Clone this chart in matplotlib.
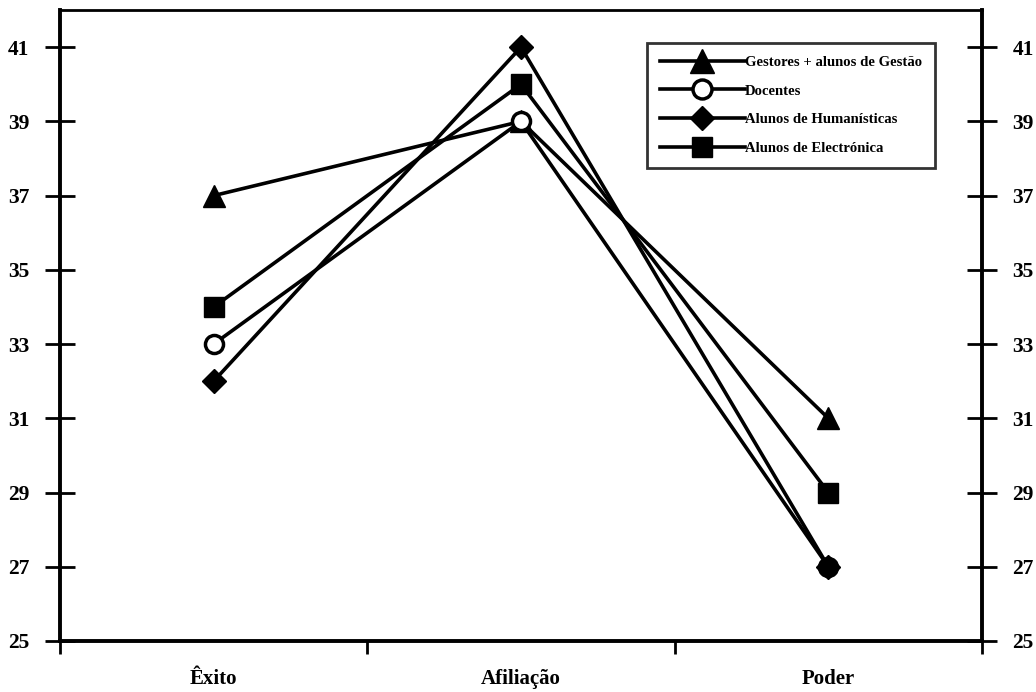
import matplotlib.pyplot as plt
import numpy as np
from matplotlib.ticker import FixedLocator, NullFormatter

# Datos
categorias = ['Êxito', 'Afiliação', 'Poder']
gestores = [37, 39, 31]
docentes = [33, 39, 27]
humanisticas = [32, 41, 27]
electronica = [34, 40, 29]
nombres = ['Gestores + alunos de Gestão', 'Docentes',
           'Alunos de Humanísticas', 'Alunos de Electrónica']
y_ticks = list(range(25, 42, 2))

plt.rcParams['font.family'] = ['Liberation Serif', 'DejaVu Serif']
plt.rcParams['font.weight'] = 'bold'

fig = plt.figure(figsize=(10.36, 6.92), dpi=100)
ax = fig.add_axes([0.0579, 0.0737, 0.8900, 0.9118])

x = np.arange(len(categorias)) + 0.5

estilos = [
    dict(marker='^', markersize=16, markerfacecolor='black'),
    dict(marker='o', markersize=13, markerfacecolor='white', markeredgewidth=2.5),
    dict(marker='D', markersize=12, markerfacecolor='black'),
    dict(marker='s', markersize=14, markerfacecolor='black'),
]
series = [gestores, docentes, humanisticas, electronica]
capas = [3, 5, 6, 4]  # orden de dibujo
for i in range(4):
    ax.plot(x, series[i], color='black', linewidth=2.6, markeredgecolor='black',
            label=nombres[i], zorder=capas[i], **estilos[i])

ax.set_xlim(0, 3)
ax.set_ylim(25, 42)

# Eje X: marcas en los límites, etiquetas centradas
ax.xaxis.set_major_locator(FixedLocator([0, 1, 2, 3]))
ax.xaxis.set_major_formatter(NullFormatter())
ax.xaxis.set_minor_locator(FixedLocator(list(x)))
ax.set_xticklabels(categorias, minor=True)
ax.tick_params(axis='x', which='major', direction='out', length=9, width=2)
ax.tick_params(axis='x', which='minor', length=0, pad=20, labelsize=15)

# Eje Y a ambos lados
ax.set_yticks(y_ticks)
ax.tick_params(axis='y', which='major', direction='inout', length=22, width=2,
               labelsize=15.5, left=True, right=True, labelleft=True, labelright=True,
               pad=11)

for lado in ['left', 'right', 'bottom']:
    ax.spines[lado].set_linewidth(2.8)
ax.spines['top'].set_linewidth(2.0)

# Leyenda
handles, labels = ax.get_legend_handles_labels()
mapa = dict(zip(labels, handles))
leg = fig.legend([mapa[n] for n in nombres], nombres,
                 loc='upper left', bbox_to_anchor=(647 / 1036, 1 - 43 / 692),
                 fontsize=10.6, frameon=True, fancybox=False, edgecolor='black',
                 handlelength=5.8, handletextpad=0.0, borderaxespad=0,
                 labelspacing=1.05, borderpad=0.85, markerscale=1.05)
leg.get_frame().set_linewidth(2)
for t in leg.get_texts():
    t.set_fontweight('bold')

fig.savefig('out.png', dpi=100)
